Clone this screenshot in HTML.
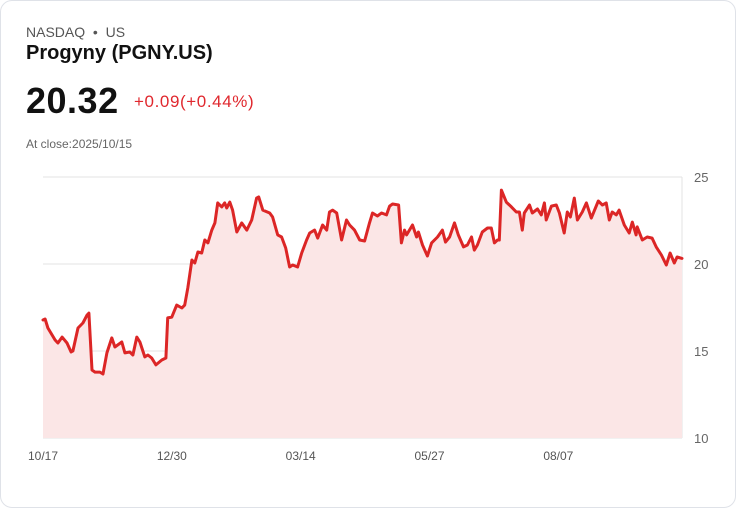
<!DOCTYPE html>
<html><head><meta charset="utf-8"><style>
body{margin:0;background:#fff;font-family:"Liberation Sans",sans-serif;}
.card{position:absolute;left:0;top:0;width:734px;height:506px;border:1px solid #dfe2e8;border-radius:12px;background:#fff;}
.t{position:absolute;white-space:nowrap;}
</style></head><body>
<div class="card">
<div class="t" style="left:25px;top:23px;font-size:14px;color:#555;">NASDAQ &nbsp;•&nbsp; US</div>
<div class="t" style="left:25px;top:41px;font-size:20px;font-weight:bold;color:#111;">Progyny (PGNY.US)</div>
<div class="t" style="left:25px;top:79px;font-size:36px;font-weight:bold;color:#111;letter-spacing:0.5px;">20.32</div>
<div class="t" style="left:133px;top:91px;font-size:17px;color:#e0282e;letter-spacing:0.6px;">+0.09(+0.44%)</div>
<div class="t" style="left:25px;top:136px;font-size:12px;color:#666;">At close:2025/10/15</div>
<svg id="chart" width="736" height="508" style="position:absolute;left:-1px;top:-1px"></svg>
</div>
<script>
const days=[0,0.8,1.9,4.7,5.8,7.4,9.3,10.9,11.6,13.6,15.5,17.1,17.8,19,20.2,22.1,23.3,24.8,26.7,27.9,30.6,31.8,33.7,34.9,36.4,37.6,39.5,40.7,42.2,43.8,46.1,47.7,48.4,50,51.9,53.9,55,56.2,57.8,58.9,60.1,61.6,62.8,64,65.5,66.7,67.8,69.4,70.5,71.3,72.5,73.6,75.2,77.1,79.1,81,82.9,83.7,85.3,88,89.1,91.1,92.6,94.2,95.7,96.9,98.8,100.4,102.3,103.5,105.4,106.6,108.5,110.1,111.2,112.4,114,115.9,117.8,119,120.9,122.9,124.8,126.7,127.9,129.8,131.4,133.3,134.5,135.7,138,139.1,140.3,141.1,143.4,145,145.7,147.3,149.2,150.8,153.1,155,156.2,157.8,159.7,161.2,163.2,164.7,166.3,167.4,168.6,170.5,172.5,174,175.2,176.4,177.1,177.9,179.8,181.8,183.7,184.9,186,186.8,188.8,189.9,191.9,193.4,194.6,195.3,197.3,199.2,200.4,202.3,203.5,204.7,206.2,207.4,209.3,210.9,212.8,215.5,217.1,218.6,219.8,220.9,222.5,223.6,225.6,227.5,228.7,230.2,230.6,232.6,234.5,236.4,238,240,241.9,243.4,245,246.1,248];
const prices=[16.78,16.84,16.32,15.63,15.46,15.80,15.46,14.94,15.0,16.32,16.61,17.07,17.18,13.91,13.79,13.79,13.68,14.89,15.75,15.23,15.52,14.89,14.94,14.77,15.80,15.52,14.66,14.77,14.60,14.20,14.48,14.60,16.90,16.95,17.64,17.47,17.64,18.62,20.23,20.06,20.69,20.63,21.38,21.21,21.95,22.36,23.51,23.28,23.51,23.22,23.56,23.10,21.84,22.36,21.95,22.53,23.79,23.85,23.10,22.93,22.70,21.67,21.55,20.92,19.83,19.94,19.83,20.63,21.38,21.78,21.95,21.49,22.24,21.95,22.99,23.10,22.93,21.38,22.53,22.24,21.95,21.38,21.32,22.36,22.93,22.76,22.93,22.82,23.33,23.45,23.39,21.21,21.95,21.67,22.24,21.55,21.84,21.09,20.46,21.21,21.55,21.95,21.26,21.55,22.36,21.67,20.98,21.09,21.55,20.80,21.09,21.84,22.07,22.07,21.21,21.38,21.38,24.25,23.56,23.28,22.99,22.99,21.95,22.93,23.39,22.93,23.16,22.82,23.51,22.53,23.33,23.39,22.93,21.78,22.99,22.70,23.79,22.53,22.99,23.51,22.64,23.62,23.39,23.51,22.53,22.99,22.82,23.10,22.24,21.78,22.41,21.67,22.13,21.38,21.55,21.49,20.98,20.52,19.94,20.63,20.06,20.40,20.32];
const yTicks=[10,15,20,25];
const xTickLabels=["10/17","12/30","03/14","05/27","08/07"];
const xTickDays=[0,50,100,150,200];
const NS="http://www.w3.org/2000/svg",svg=document.getElementById('chart');
const X0=43,X1=682,Y0=438,Y1=177,DMAX=248,VMIN=10,VMAX=25;
const xs=d=>X0+(d/DMAX)*(X1-X0), ys=v=>Y0-(v-VMIN)/(VMAX-VMIN)*(Y0-Y1);
function mk(t,a){const e=document.createElementNS(NS,t);for(const k in a)e.setAttribute(k,a[k]);svg.appendChild(e);return e;}
yTicks.forEach(v=>{
 const l=mk('line',{x1:X0,x2:X1,y1:ys(v),y2:ys(v),stroke:'#e3e3e3','stroke-width':1});
 
 
 const t=mk('text',{x:694,y:ys(v)+5,'font-size':13,fill:'#666','font-family':'Liberation Sans, sans-serif'});
 t.textContent=v;
 
 
});
const vl=mk('line',{x1:X1,x2:X1,y1:Y1,y2:Y0,stroke:'#e3e3e3','stroke-width':1});


xTickDays.forEach((d,i)=>{
 const t=mk('text',{x:xs(d)-15,y:460,'font-size':12,fill:'#555','font-family':'Liberation Sans, sans-serif'});
 t.textContent=xTickLabels[i];
 
 
});
let p=days.map((d,i)=>(i?'L':'M')+xs(d).toFixed(1)+','+ys(prices[i]).toFixed(1)).join('');
const area=mk('path',{d:p+`L${xs(days[days.length-1])},${Y0}L${xs(0)},${Y0}Z`,fill:'#fbe6e6'});


const line=mk('path',{d:p,fill:'none',stroke:'#dc2626','stroke-width':3,'stroke-linejoin':'round','stroke-linecap':'round'});


</script>
</body></html>
